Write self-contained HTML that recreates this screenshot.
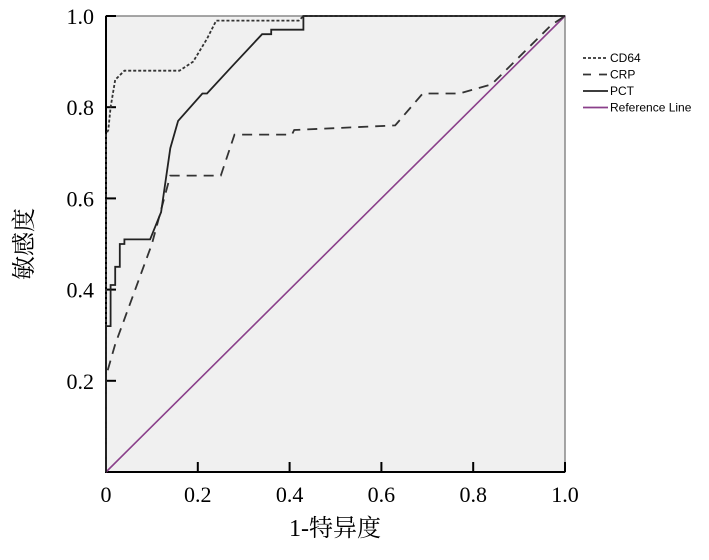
<!DOCTYPE html>
<html><head><meta charset="utf-8"><style>
body{margin:0;background:#fff;}
svg text{font-family:"Liberation Serif","Noto Serif CJK SC",serif;}
</style></head><body>
<svg width="709" height="555" xmlns="http://www.w3.org/2000/svg">
<rect x="106" y="16" width="459" height="456" fill="#f0f0f0" stroke="#888" stroke-width="1.5"/>
<g id="axes"></g>
<g id="series"></g>
<g id="legend"></g>
<text transform="translate(32,244) rotate(-90)" text-anchor="middle" font-size="24" fill="#000">敏感度</text>
<text x="335" y="536" text-anchor="middle" font-size="24" fill="#000">1-特异度</text>
</svg>
<script>
const xTicks=[0,0.2,0.4,0.6,0.8,1.0];
const xTickLabels=["0","0.2","0.4","0.6","0.8","1.0"];
const yTicks=[0.2,0.4,0.6,0.8,1.0];
const yTickLabels=["0.2","0.4","0.6","0.8","1.0"];
const cd64X=[0,0,0.005,0.01,0.02,0.04,0.16,0.19,0.22,0.24,0.42,0.43,1];
const cd64Y=[0,0.74,0.75,0.8,0.86,0.88,0.88,0.9,0.95,0.99,0.99,1,1];
const crpX=[0,0,0.02,0.1,0.14,0.25,0.28,0.405,0.41,0.63,0.69,0.77,0.84,0.97,1];
const crpY=[0,0.21,0.28,0.5,0.65,0.65,0.74,0.74,0.75,0.76,0.83,0.83,0.85,0.98,1];
const pctX=[0,0,0.01,0.01,0.02,0.02,0.03,0.03,0.04,0.04,0.096,0.12,0.14,0.157,0.21,0.22,0.275,0.34,0.36,0.36,0.43,0.43,1];
const pctY=[0,0.32,0.32,0.41,0.41,0.45,0.45,0.50,0.50,0.51,0.51,0.57,0.71,0.77,0.83,0.83,0.89,0.96,0.96,0.97,0.97,1,1];
const refX=[0,1];const refY=[0,1];
const X0=106,W=459,Y0=472,H=456;
const sx=v=>X0+v*W, sy=v=>Y0-v*H;
const NS="http://www.w3.org/2000/svg";
const axes=document.getElementById('axes');
function mk(t,a,p){const e=document.createElementNS(NS,t);for(const k in a)e.setAttribute(k,a[k]);p.appendChild(e);return e;}
xTicks.forEach((v,i)=>{
 const l=mk('line',{x1:sx(v),x2:sx(v),y1:Y0,y2:Y0-10,stroke:'#000','stroke-width':2},axes);
 
 
 const t=mk('text',{x:sx(v),y:502,'text-anchor':'middle','font-size':22},axes);
 
 
 t.textContent=xTickLabels[i];
});
yTicks.forEach((v,i)=>{
 const l=mk('line',{x1:X0,x2:X0+10,y1:sy(v),y2:sy(v),stroke:'#000','stroke-width':2},axes);
 
 
 const t=mk('text',{x:94,y:sy(v)+8,'text-anchor':'end','font-size':22},axes);
 
 
 t.textContent=yTickLabels[i];
});
const ax=mk('path',{d:`M${X0},16V${Y0}H${X0+W}`,fill:'none',stroke:'#000','stroke-width':2},axes);


const ser=document.getElementById('series');
function line(xs,ys,st,name){
 const d=xs.map((x,i)=>(i?'L':'M')+sx(x).toFixed(1)+','+sy(ys[i]).toFixed(1)).join('');
 const p=mk('path',Object.assign({d:d,fill:'none'},st),ser);
 
 
}
line(refX,refY,{stroke:'#8a3f8a','stroke-width':1.6},'reference-line');
line(crpX,crpY,{stroke:'#333','stroke-width':1.8,'stroke-dasharray':'10,7'},'crp-line');
line(cd64X,cd64Y,{stroke:'#333','stroke-width':1.8,'stroke-dasharray':'3,2'},'cd64-line');
line(pctX,pctY,{stroke:'#222','stroke-width':1.8},'pct-line');
const leg=document.getElementById('legend');
const items=[["CD64",{'stroke-dasharray':'3,2',stroke:'#333'}],["CRP",{'stroke-dasharray':'8,8',stroke:'#333'}],["PCT",{stroke:'#222'}],["Reference Line",{stroke:'#8a3f8a'}]];
items.forEach((it,i)=>{
 const y=58+i*16.5;
 const l=mk('line',Object.assign({x1:583,x2:608,y1:y,y2:y,'stroke-width':1.8},it[1]),leg);
 
 
 const t=mk('text',{x:610,y:y+4,'font-size':12,style:'font-family:"Liberation Sans",sans-serif'},leg);
 
 
 t.textContent=it[0];
});
</script>
</body></html>
